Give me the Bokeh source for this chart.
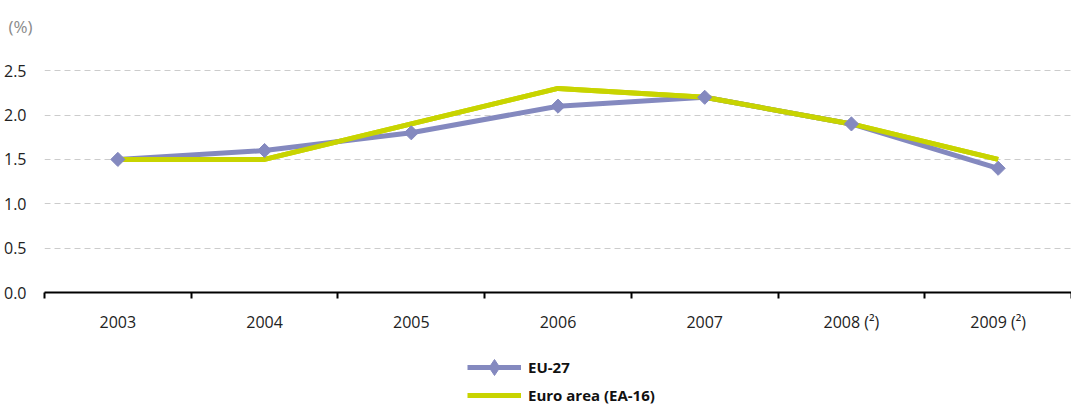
from math import pi

from bokeh.embed import file_html
from bokeh.layouts import column
from bokeh.models import (ColumnDataSource, FixedTicker, Legend, LegendItem,
                          Range1d, Title)
from bokeh.plotting import figure
from bokeh.resources import INLINE

# Annual values (%)
years = ["2003", "2004", "2005", "2006", "2007", "2008 (²)", "2009 (²)"]
eu27 = [1.5, 1.6, 1.8, 2.1, 2.2, 1.9, 1.4]
euro_area = [1.5, 1.5, 1.9, 2.3, 2.2, 1.9, 1.5]
y_ticks = [0.0, 0.5, 1.0, 1.5, 2.0, 2.5]
series_names = ["EU-27", "Euro area (EA-16)"]

FONT = "Open Sans"
EU_COLOR = "#8489bf"
EA_COLOR = "#c8d400"

xs = [i + 0.5 for i in range(len(years))]
src = ColumnDataSource(data=dict(x=xs, eu27=eu27, ea=euro_area))

p = figure(width=1071, height=345, output_backend="svg", toolbar_location=None,
           x_range=Range1d(0, len(years)), y_range=Range1d(0, 2.75),
           min_border_left=44, min_border_right=0, min_border_top=48,
           min_border_bottom=53, outline_line_color=None)

p.title = Title(text="(%)", text_font=FONT, text_font_size="17px",
                text_color="#8a8a8a", text_font_style="normal",
                offset=-36, standoff=18, vertical_align="top")

p.line("x", "ea", source=src, line_color=EA_COLOR, line_width=5)
p.line("x", "eu27", source=src, line_color=EU_COLOR, line_width=5)
p.line("x", "ea", source=src, line_color=EA_COLOR, line_width=5)
p.scatter("x", "eu27", source=src, marker="square", size=10,
          angle=pi / 4, fill_color=EU_COLOR, line_color=EU_COLOR)

# x axis: labels centred in each category, ticks on category boundaries
xa = p.xaxis[0]
xa.ticker = FixedTicker(ticks=xs, minor_ticks=list(range(len(years) + 1)))
xa.major_label_overrides = {x: y for x, y in zip(xs, years)}
xa.major_tick_line_color = None
xa.minor_tick_in = 0
xa.minor_tick_out = 6
xa.minor_tick_line_color = "#000000"
xa.minor_tick_line_width = 2
xa.axis_line_color = "#000000"
xa.axis_line_width = 2
xa.major_label_standoff = 12
xa.major_label_text_font = FONT
xa.major_label_text_font_size = "16px"
xa.major_label_text_color = "#222222"

ya = p.yaxis[0]
ya.ticker = FixedTicker(ticks=y_ticks)
ya.major_label_overrides = {v: f"{v:.1f}" for v in y_ticks}
ya.axis_line_color = None
ya.major_tick_line_color = None
ya.minor_tick_line_color = None
ya.major_label_standoff = 12
ya.major_label_text_font = FONT
ya.major_label_text_font_size = "16px"
ya.major_label_text_color = "#222222"

p.xgrid.grid_line_color = None
p.ygrid.grid_line_color = "#cccccc"
p.ygrid.grid_line_dash = "6 4"
p.ygrid.grid_line_width = 1

# Legend strip under the chart; its key renderers sit outside the visible range
leg = figure(width=1071, height=60, output_backend="svg", toolbar_location=None,
             x_range=Range1d(0, 1), y_range=Range1d(0, 1),
             x_axis_type=None, y_axis_type=None, outline_line_color=None,
             min_border=0, min_border_left=0, min_border_right=0,
             min_border_top=0, min_border_bottom=0)
leg.xgrid.grid_line_color = None
leg.ygrid.grid_line_color = None
key_src = ColumnDataSource(data=dict(x=[-5, -4], y=[-5, -5]))
k_eu_line = leg.line("x", "y", source=key_src, line_color=EU_COLOR, line_width=5)
k_eu_pt = leg.scatter("x", "y", source=key_src, marker="diamond", size=17,
                      fill_color=EU_COLOR, line_color=EU_COLOR)
k_ea_line = leg.line("x", "y", source=key_src, line_color=EA_COLOR, line_width=5)

legend_style = dict(orientation="vertical", label_text_font=FONT,
                    label_text_font_size="15px", label_text_font_style="bold",
                    label_text_color="#111111", glyph_width=54, label_standoff=7,
                    label_height=20, spacing=0, padding=0, margin=0,
                    border_line_color=None, background_fill_alpha=0)

# one legend per row so the diamond key can be drawn larger
leg.add_layout(Legend(items=[LegendItem(label=series_names[0],
                                        renderers=[k_eu_line, k_eu_pt])],
                      location=(423, 18), glyph_height=40, **legend_style))
leg.add_layout(Legend(items=[LegendItem(label=series_names[1],
                                        renderers=[k_ea_line])],
                      location=(423, 0), glyph_height=20, **legend_style))

open("out.html", "w").write(file_html(column(p, leg, spacing=0), INLINE))
